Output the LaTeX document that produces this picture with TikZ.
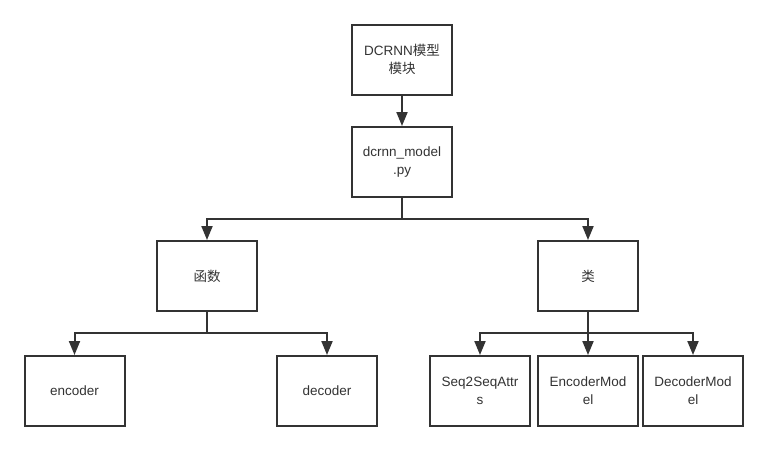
\documentclass[tikz,border=0pt]{standalone}
\usepackage{fontspec}
\setmainfont{Liberation Sans}
\newfontfamily\cjk{Noto Sans CJK SC}
\usetikzlibrary{arrows.meta}
\definecolor{ln}{HTML}{333333}
\definecolor{tx}{HTML}{333333}
\begin{document}
\begin{tikzpicture}[x=1pt,y=-1pt,
  box/.style={draw=ln,line width=2pt,minimum width=100pt,minimum height=70pt,align=center,text=tx,font=\fontsize{13.5}{18}\selectfont,inner sep=0pt},
  conn/.style={draw=ln,line width=2pt,-{Triangle[length=14pt,width=11pt]}}]
\useasboundingbox (0,0) rectangle (768,451);
\fill[white] (0,0) rectangle (768,451);
\node[box] (top) at (402,59.5) {DCRNN{\cjk 模型}\\{\cjk 模块}};
\node[box] (mod) at (402,162) {dcrnn\_model\\.py};
\node[box] (fn) at (207,276) {\cjk 函数};
\node[box] (cl) at (588,276) {\cjk 类};
\node[box] (enc) at (74.5,391) {encoder};
\node[box] (dec) at (327,391) {decoder};
\node[box] (s2s) at (480,391) {Seq2SeqAttr\\s};
\node[box] (em) at (588,391) {EncoderMod\\el};
\node[box] (dm) at (693,391) {DecoderMod\\el};
\coordinate (b1) at (402,219);
\coordinate (b2) at (207,333);
\coordinate (b3) at (588,333);
\draw[conn] (top) -- (mod);
\draw[draw=ln,line width=2pt] (mod.south) -- (b1);
\draw[conn] (b1) -| (fn.north);
\draw[conn] (b1) -| (cl.north);
\draw[draw=ln,line width=2pt] (fn.south) -- (b2);
\draw[conn] (b2) -| (enc.north);
\draw[conn] (b2) -| (dec.north);
\draw[draw=ln,line width=2pt] (cl.south) -- (b3);
\draw[conn] (b3) -| (s2s.north);
\draw[conn] (b3) -- (em.north);
\draw[conn] (b3) -| (dm.north);
\end{tikzpicture}
\end{document}
